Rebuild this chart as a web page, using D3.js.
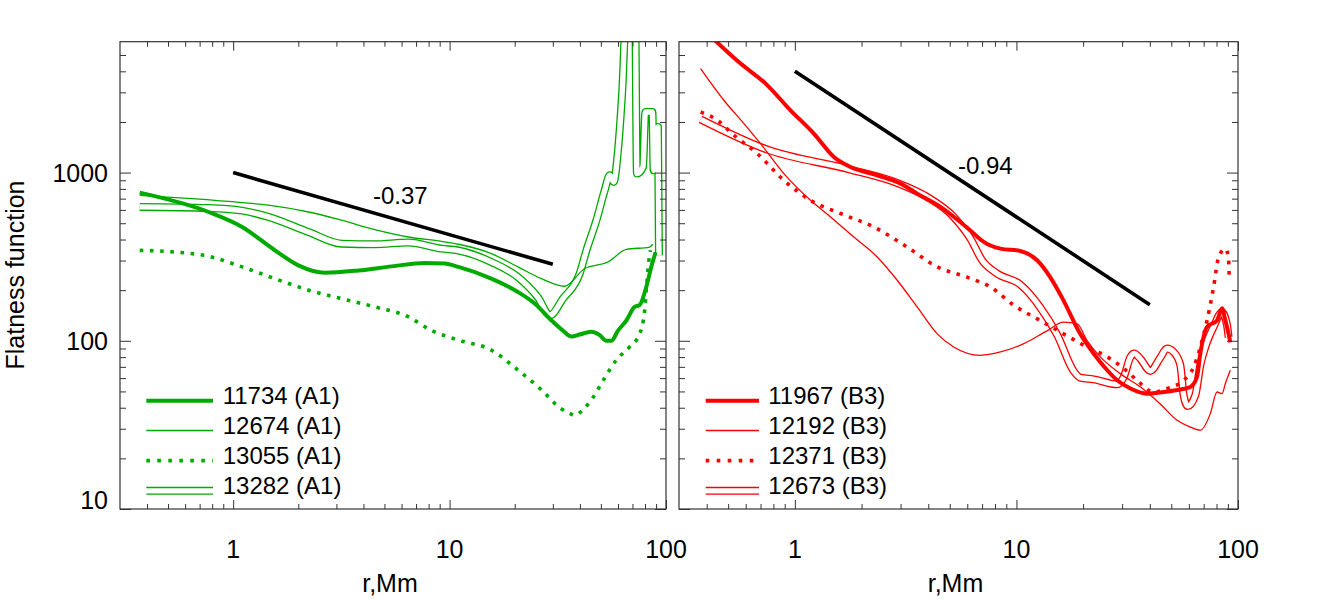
<!DOCTYPE html>
<html><head><meta charset="utf-8">
<script src="https://cdn.jsdelivr.net/npm/d3@7"></script>
<style>
body{margin:0;background:#fff;}
text{font-family:"Liberation Sans",Arial,Helvetica,sans-serif;fill:#000;}
</style></head>
<body>
<svg id="chart" width="1329" height="599"></svg>
<script>
// ---------- data (r in Mm, flatness function) ----------
const xTickLabels = [1, 10, 100];
const yTickLabels = [10, 100, 1000];

// Left panel (A1)
const r11734 = [0.37,0.77,1.10,1.56,2.0,2.66,3.79,5.4,7.69,9.5,11.0,15.6,20.7,24.8,29.6,33.4,36.6,39.9,45.2,49.4,53.0,55.9,60.0,65.6,71.6,75.5,81.1,85.5,89.5];
const f11734 = [760,583,475,345,281,254,262,277,290,288,275,234,195,166,132,115,106,109,113,108,100,100,115,132,159,163,209,275,336];

const r12674 = [0.37,0.645,1.10,1.455,2.23,3.17,4.52,6.44,9.18,11.0,15.6,20.7,26.6,34.0,42.1,53.9,65.6,84.0,86.8];
const f12674 = [733,700,663,640,583,521,458,414,390,375,330,275,234,211,269,294,349,361,375];

const r13055 = [0.37,0.54,0.77,1.10,1.56,2.23,3.17,4.52,6.44,8.26,11.0,15.6,20.7,26.6,32.3,35.9,37.9,41.4,46.0,51.2,59.0,67.9,75.5,79.7,81.1,83.4,84.7];
const f13055 = [345,337,318,275,234,200,178,159,139,115,101,88,67,51,40,37,36,39,46,58,77,92,110,152,200,301,345];

const r13282 = [0.37,0.77,1.10,1.455,2.23,3.17,4.52,6.44,9.18,11.0,15.6,20.7,25.6,29.1,33.4,39.9,42.9,47.7,52.1,55.0,57.3,60.0,62.8,65.5,72.0,73.4,78.3,80.3,86.5,87.7,91.8,92.8];
const f13282 = [625,616,594,545,443,378,375,384,353,344,294,239,181,142,178,251,345,521,785,964,880,1357,3085,9000,9000,986,1080,2291,2291,1032,1866,322];

// Right panel (B3)
const r11967 = [0.4,0.569,0.738,0.956,1.218,1.50,1.783,2.353,3.0,3.565,4.54,5.58,6.42,7.12,8.47,10.4,12.4,14.2,16.3,19.4,22.3,25.7,28.5,32.7,38.9,46.2,54.9,60.9,65.3,67.6,72.5,80.4,84.7,87.7,90.7,92.3];
const f11967 = [6800,4446,3381,2345,1706,1238,1080,964,860,750,625,508,434,387,353,342,301,239,174,110,84,66.8,58.2,52.0,48.5,49.6,51.3,53.1,61.0,84,121,132,156,132,110,98];

const r12192 = [0.3755,0.478,0.589,0.700,0.892,1.177,1.449,1.846,2.353,2.897,3.565,4.39,5.21,6.88,8.47,10.8,13.8,16.3,18.8,20.8,23.9,29.4,36.3,44.6,53.1,60.9,67.6,75.0,80.4,84.7,87.7,92.3];
const f12192 = [4150,2692,1955,1487,986,684,545,414,315,229,159,110,91.9,82,85.8,96.2,115,129,126,100.7,80.2,63.8,53.1,42.1,33.7,30.7,29.4,36.9,49.6,48.5,55.7,66.8];

const r12371 = [0.3755,0.447,0.531,0.677,0.892,1.177,1.607,2.27,3.21,4.39,5.99,7.63,9.72,12.8,16.3,20.8,25.7,30.5,35.0,41.6,47.8,56.9,63.1,67.6,72.5,77.6,81.8,87.7,90.5,91.3];
const f12371 = [2292,2046,1667,1297,900,684,571,475,361,275,239,209,163,132,110,91.9,80.2,68.4,58.2,49.6,52.0,58.2,69.9,91.9,132,209,315,353,315,239];

const r12673 = [0.3755,0.751,1.783,2.897,3.96,5.21,6.20,7.0,8.18,10.4,12.8,15.3,18.1,19.4,22.3,28.5,30.5,32.7,34.0,36.2,40.2,44.6,47.8,51.2,54.9,56.9,59.3,64.2,67.6,71.2,77.6,84.7,89.2,90.7];
const f12673 = [2074,1370,1042,868,716,545,405,301,251,216,158,108,66.2,60.4,59.0,55.1,60.9,80.1,84,78.4,66.2,79.4,89.9,85.8,71.7,47.0,40.9,47.5,71.7,91.9,121,148,124,105];

// reference power-law lines
const refLeftR = [1, 30],  refLeftF = [1000, 285];
const refRightR = [1, 40], refRightF = [4000, 164];
const slopeLabels = ["-0.37", "-0.94"];

const leftNames = ["11734 (A1)", "12674 (A1)", "13055 (A1)", "13282 (A1)"];
const rightNames = ["11967 (B3)", "12192 (B3)", "12371 (B3)", "12673 (B3)"];

// ---------- drawing ----------
const svg = d3.select("#chart");
const GREEN = "#00aa00", RED = "#ff0000";
const yTop = 41.7, yBot = 509;
const y = d3.scaleLog().domain([10, 6000]).range([yBot, yTop]);
const xL = d3.scaleLog().domain([0.3, 100]).range([120, 666]);
const xR = d3.scaleLog().domain([0.3, 100]).range([679, 1238]);

const minorX = [0.4,0.5,0.6,0.7,0.8,0.9,2,3,4,5,6,7,8,9,20,30,40,50,60,70,80,90];
const minorY = [20,30,40,50,60,70,80,90,200,300,400,500,600,700,800,900,2000,3000,4000,5000];

function zip(rs, fs){ return rs.map((r,i)=>[r, fs[i]]); }

const styles = {
  thick: {w:4, dash:null},
  thin: {w:1.3, dash:null},
  dotted: {w:3.6, dash:"3.6,6.6"},
};

function panel(x, id, color, series, ref, slopeLabel, slopePos, names){
  const x0 = x.range()[0], x1 = x.range()[1];
  svg.append("clipPath").attr("id", id).append("rect")
    .attr("x", x0).attr("y", yTop).attr("width", x1-x0).attr("height", yBot-yTop);
  const g = svg.append("g").attr("clip-path", `url(#${id})`);
  const line = d3.line().x(d=>x(d[0])).y(d=>y(d[1])).curve(d3.curveMonotoneX);

  // double-line series first
  series.filter(s=>s.style==="double").forEach(s=>{
    const data = zip(s.r, s.f);
    g.append("path").attr("d", line(data)).attr("fill","none").attr("stroke",color)
      .attr("stroke-width",8).attr("stroke-linejoin","round");
    g.append("path").attr("d", line(data)).attr("fill","none").attr("stroke","#fff")
      .attr("stroke-width",5.4).attr("stroke-linejoin","round");
  });
  ["dotted","thin","thick"].forEach(st=>{
    series.filter(s=>s.style===st).forEach(s=>{
      const p = g.append("path").attr("d", line(zip(s.r, s.f))).attr("fill","none")
        .attr("stroke",color).attr("stroke-width",styles[st].w).attr("stroke-linejoin","round");
      if(styles[st].dash) p.attr("stroke-dasharray", styles[st].dash);
    });
  });
  // reference line
  g.append("path").attr("d", d3.line().x(d=>x(d[0])).y(d=>y(d[1]))(zip(ref.r, ref.f)))
    .attr("stroke","#000").attr("stroke-width",3.6).attr("fill","none");
  svg.append("text").attr("x", slopePos[0]).attr("y", slopePos[1])
    .attr("font-size", 24).text(slopeLabel);

  // axes ticks (inward)
  const addAxis = (axis, tr) => {
    const a = svg.append("g").attr("transform", tr).call(axis);
    a.select(".domain").remove();
    a.selectAll("line").attr("stroke","#333").attr("stroke-width",1);
    a.selectAll("text").remove();
  };
  addAxis(d3.axisBottom(x).tickValues(xTickLabels).tickSize(-9), `translate(0,${yBot})`);
  addAxis(d3.axisBottom(x).tickValues(minorX).tickSize(-5), `translate(0,${yBot})`);
  addAxis(d3.axisTop(x).tickValues(xTickLabels).tickSize(-9), `translate(0,${yTop})`);
  addAxis(d3.axisTop(x).tickValues(minorX).tickSize(-5), `translate(0,${yTop})`);
  addAxis(d3.axisLeft(y).tickValues(yTickLabels).tickSize(-11), `translate(${x0},0)`);
  addAxis(d3.axisLeft(y).tickValues(minorY).tickSize(-6), `translate(${x0},0)`);
  addAxis(d3.axisRight(y).tickValues(yTickLabels).tickSize(-11), `translate(${x1},0)`);
  addAxis(d3.axisRight(y).tickValues(minorY).tickSize(-6), `translate(${x1},0)`);
  svg.append("rect").attr("x", x0).attr("y", yTop).attr("width", x1-x0).attr("height", yBot-yTop)
    .attr("fill","none").attr("stroke","#333").attr("stroke-width",1.2);

  // x tick labels
  xTickLabels.forEach(v=>{
    svg.append("text").attr("x", x(v)).attr("y", 557.7).attr("text-anchor","middle")
      .attr("font-size", 25).text(v);
  });
  svg.append("text").attr("x", (x0+x1)/2 - 3).attr("y", 592).attr("text-anchor","middle")
    .attr("font-size", 25).text("r,Mm");

  // legend
  const rows = [400.8, 430.5, 460.6, 490.8];
  const lx0 = x0 + (id==="clipL" ? 26.3 : 26.7), lx1 = lx0 + (id==="clipL" ? 66.7 : 53.3);
  const tx = lx1 + (id==="clipL" ? 9.7 : 9.3);
  const order = ["thick","thin","dotted","double"];
  order.forEach((st,i)=>{
    const yy = rows[i];
    if(st==="double"){
      [-3.3, 3.3].forEach(o=>svg.append("line").attr("x1",lx0).attr("x2",lx1)
        .attr("y1",yy+o).attr("y2",yy+o).attr("stroke",color).attr("stroke-width",1.3));
    } else {
      const l = svg.append("line").attr("x1",lx0).attr("x2",lx1).attr("y1",yy).attr("y2",yy)
        .attr("stroke",color).attr("stroke-width",styles[st].w);
      if(styles[st].dash) l.attr("stroke-dasharray", "3.6,7.4");
    }
    svg.append("text").attr("x", tx).attr("y", yy+3.6).attr("font-size",24).text(names[i]);
  });
}

panel(xL, "clipL", GREEN, [
  {r:r11734, f:f11734, style:"thick"},
  {r:r12674, f:f12674, style:"thin"},
  {r:r13055, f:f13055, style:"dotted"},
  {r:r13282, f:f13282, style:"double"},
], {r:refLeftR, f:refLeftF}, slopeLabels[0], [373, 203.5], leftNames);

panel(xR, "clipR", RED, [
  {r:r11967, f:f11967, style:"thick"},
  {r:r12192, f:f12192, style:"thin"},
  {r:r12371, f:f12371, style:"dotted"},
  {r:r12673, f:f12673, style:"double"},
], {r:refRightR, f:refRightF}, slopeLabels[1], [958, 173.5], rightNames);

// y tick labels (left panel only)
yTickLabels.forEach(v=>{
  svg.append("text").attr("x", 108).attr("y", Math.min(y(v)+9.2, 509))
    .attr("text-anchor","end").attr("font-size",25).text(v);
});
svg.append("text").attr("transform","translate(24,275) rotate(-90)")
  .attr("text-anchor","middle").attr("font-size",25).text("Flatness function");
</script>
</body></html>
